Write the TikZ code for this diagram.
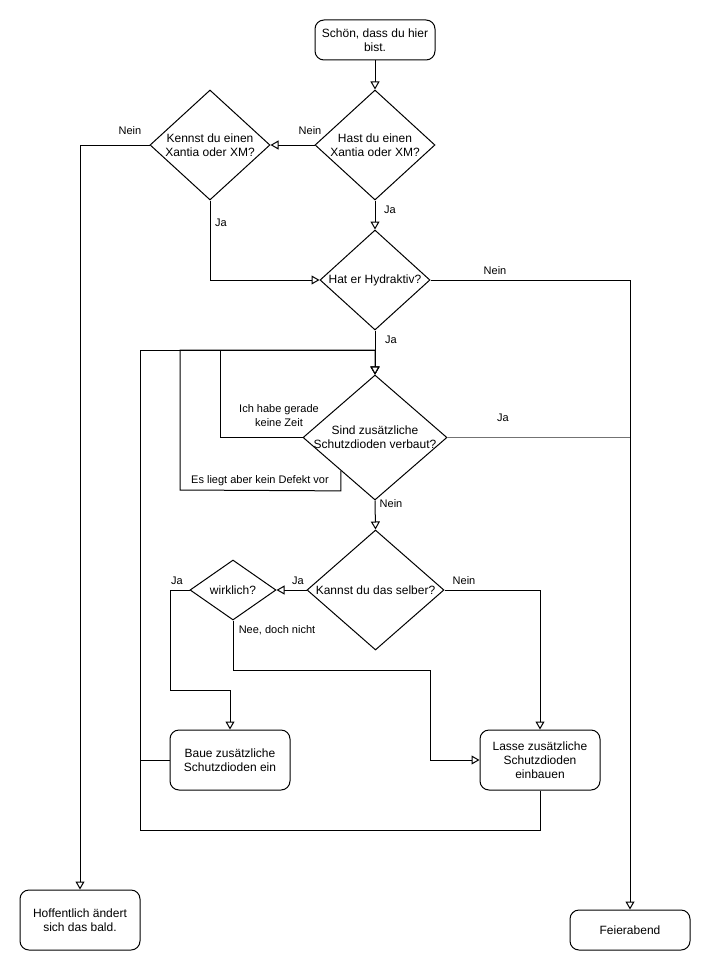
\documentclass[tikz,border=0pt]{standalone}
\usepackage{fontspec}
\setmainfont{Liberation Sans}
\usetikzlibrary{shapes.geometric,arrows.meta,calc}
\definecolor{edgegray}{RGB}{115,115,115}
\tikzset{
  box/.style={draw, line width=1pt, rounded corners=9pt, minimum width=120pt, inner sep=0pt, align=center, font=\fontsize{12}{14}\selectfont},
  dia/.style={draw, diamond, line width=1pt, inner sep=0pt},
  dtext/.style={align=center, font=\fontsize{12}{14}\selectfont, inner sep=0pt},
  lbl/.style={align=center, font=\fontsize{11}{14}\selectfont, inner sep=0pt},
  conn/.style={line width=1pt},
  arr/.style={line width=1pt, -{Triangle[open, length=8pt, width=9pt, fill=white]}},
}
\begin{document}
\begin{tikzpicture}[x=1pt,y=-1pt]
\useasboundingbox (0,0) rectangle (711,971);
% nodes
\node[box, minimum height=40pt] (start) at (375,40) {Schön, dass du hier\\bist.};
\node[dia, minimum width=120pt, minimum height=110pt, label={[dtext]center:Hast du einen\\Xantia oder XM?}] (hast) at (375,145) {};
\node[dia, minimum width=120pt, minimum height=110pt, label={[dtext]center:Kennst du einen\\Xantia oder XM?}] (kennst) at (210,145) {};
\node[dia, minimum width=110pt, minimum height=100pt, label={[dtext]center:Hat er Hydraktiv?}] (hyd) at (375,280) {};
\node[dia, minimum width=144pt, minimum height=125pt, label={[dtext]center:Sind zusätzliche\\Schutzdioden verbaut?}] (sind) at (375,437.5) {};
\node[dia, minimum width=137pt, minimum height=120pt, label={[dtext]center:Kannst du das selber?}] (kannst) at (375.5,590) {};
\node[dia, minimum width=86pt, minimum height=60pt, label={[dtext]center:wirklich?}] (wirk) at (233,590) {};
\node[box, minimum height=60pt] (baue) at (230,760) {Baue zusätzliche\\Schutzdioden ein};
\node[box, minimum height=60pt] (lasse) at (540,760) {Lasse zusätzliche\\Schutzdioden\\einbauen};
\node[box, minimum height=60pt] (hoff) at (80,920) {Hoffentlich ändert\\sich das bald.};
\node[box, minimum height=40pt] (feier) at (630,930) {Feierabend};
\coordinate (join) at (375,350);
% edges
\draw[arr] (start) -- (hast);
\draw[arr] (hast.west) -- (kennst.east);
\draw[arr] (kennst.west) -- (80,145) -- (hoff.north);
\draw[arr] (kennst.south) -- (210,280) -- (hyd.west);
\draw[arr] (hast.south) -- (hyd.north);
\draw[arr] (hyd.east) -- (630,280) -- (feier.north);
\draw[arr] (hyd.south) -- (sind.north);
\draw[arr] (sind.west) -- (220,437.5) -- (220,350) -- (join) -- (sind.north);
\draw[arr] ($(sind.west)!0.53!(sind.south)$) -- ++(0,20) -- (180,490) -- (180,350) -- (join) -- (sind.north);
\draw[arr] (baue.west) -- (140,760) -- (140,350) -- (join) -- (sind.north);
\draw[arr] (lasse.south) -- (540,830) -- (140,830) -- (140,350) -- (join) -- (sind.north);
\draw[conn, edgegray, line width=1.5pt] (sind.east) -- (630,437.5);
\draw[arr] (sind.south) -- (kannst.north);
\draw[arr] (kannst.west) -- (wirk.east);
\draw[arr] (kannst.east) -- (540,590) -- (lasse.north);
\draw[arr] (wirk.west) -- (170,590) -- (170,690) -- (230,690) -- (baue.north);
\draw[arr] (wirk.south) -- (233,670) -- (430,670) -- (430,760) -- (lasse.west);
% labels
\node[lbl] (l1) at (310,131) {Nein};
\node[lbl] (l2) at (130,131) {Nein};
\node[lbl] (l3) at (221,223) {Ja};
\node[lbl] (l4) at (390,210) {Ja};
\node[lbl] (l5) at (495,271) {Nein};
\node[lbl] (l6) at (391,340) {Ja};
\node[lbl] (l7) at (279,416) {Ich habe gerade\\keine Zeit};
\node[lbl] (l8) at (260,481) {Es liegt aber kein Defekt vor};
\node[lbl] (l9) at (503,418) {Ja};
\node[lbl] (l10) at (391,504) {Nein};
\node[lbl] (l11) at (298,581) {Ja};
\node[lbl] (l12) at (464,581) {Nein};
\node[lbl] (l13) at (177,581) {Ja};
\node[lbl] (l14) at (277,630) {Nee, doch nicht};
\end{tikzpicture}
\end{document}
